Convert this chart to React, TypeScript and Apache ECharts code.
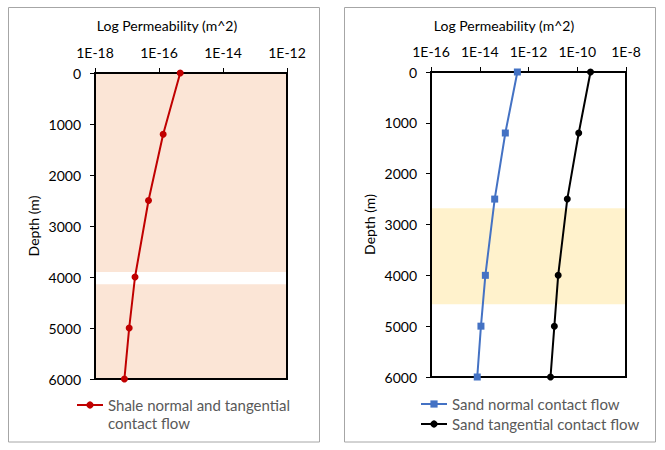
import React, { useEffect, useRef } from "react";
import * as echarts from "echarts";

// Depths (m)
const depths = [0, 1200, 2500, 4000, 5000, 6000];
// Permeability values (m^2)
const shalePerm = [4.6e-16, 1.35e-16, 4.7e-17, 1.78e-17, 1.17e-17, 8.3e-18];
const sandNormalPerm = [3.5e-13, 1.12e-13, 4.1e-14, 1.7e-14, 1.12e-14, 7.9e-15];
const sandTangentialPerm = [3.5e-10, 1.15e-10, 3.9e-11, 1.65e-11, 1.15e-11, 8e-12];
// Shaded depth bands
const shaleBands = [
  [0, 3900],
  [4140, 6000],
];
const sandBands = [[2680, 4570]];

const seriesNames = [
  "Shale normal and tangential contact flow",
  "Sand normal contact flow",
  "Sand tangential contact flow",
];
const axisTitle = "Log Permeability (m^2)";

const FONT = "Lato";

// layout
const GRIDS = [
  { left: 95, top: 73, width: 192, height: 306 },
  { left: 431, top: 72, width: 195, height: 305 },
];

export default function App() {
  const ref = useRef<HTMLDivElement>(null);
  useEffect(() => {
    document.body.style.margin = "0";
    const chart = echarts.init(ref.current!, undefined, { renderer: "svg" });
    const pair = (xs: number[]) => xs.map((x, i) => [x, depths[i]]);
    const expFmt = (v: number) => "1E" + Math.round(Math.log10(v));
    const topX = (min: number, max: number, grid: number) => ({
      type: "log",
      logBase: 10,
      gridIndex: grid,
      position: "top",
      min,
      max,
      interval: 2,
      axisLine: { show: true, onZero: false, lineStyle: { color: "#000", width: 2 } },
      axisTick: { show: true, inside: false, length: 5, lineStyle: { color: "#000" } },
      axisLabel: { formatter: expFmt, color: "#000", fontSize: 14, fontFamily: FONT, margin: 14 },
      splitLine: { show: false },
      minorTick: { show: false },
    });
    const leftY = (grid: number) => ({
      type: "value",
      gridIndex: grid,
      inverse: true,
      min: 0,
      max: 6000,
      interval: 1000,
      name: "Depth (m)",
      nameLocation: "middle",
      nameGap: 55,
      nameRotate: 90,
      nameTextStyle: { color: "#000", fontSize: 14, fontFamily: FONT },
      axisLine: { show: true, onZero: false, lineStyle: { color: "#000", width: 2 } },
      axisTick: { show: true, inside: false, length: 5, lineStyle: { color: "#000" } },
      axisLabel: {
        formatter: (v: number) => String(v),
        color: "#000",
        fontSize: 14,
        fontFamily: FONT,
        margin: 14,
      },
      splitLine: { show: false },
    });
    const bandData = (bands: number[][]) =>
      bands.map((b) => [{ yAxis: b[0] }, { yAxis: b[1] }]);
    const titleText = (x: number) => ({
      type: "text",
      x,
      y: 25,
      silent: true,
      style: {
        text: axisTitle,
        align: "center",
        verticalAlign: "middle",
        fill: "#000",
        fontSize: 14,
        fontFamily: FONT,
      },
    });
    const frame = (g: { left: number; top: number; width: number; height: number }) => ({
      type: "rect",
      z: 2,
      silent: true,
      shape: { x: g.left, y: g.top, width: g.width, height: g.height },
      style: { fill: "none", stroke: "#000", lineWidth: 2 },
    });

    chart.setOption({
      animation: false,
      backgroundColor: "#fff",
      textStyle: { fontFamily: FONT },
      graphic: [
        {
          type: "rect",
          shape: { x: 8.5, y: 7.5, width: 311, height: 434.5 },
          style: { fill: "none", stroke: "#A6A6A6", lineWidth: 1 },
          silent: true,
        },
        {
          type: "rect",
          shape: { x: 344.5, y: 7.5, width: 311, height: 434.5 },
          style: { fill: "none", stroke: "#A6A6A6", lineWidth: 1 },
          silent: true,
        },
        titleText(167),
        titleText(504),
        frame(GRIDS[0]),
        frame(GRIDS[1]),
      ],
      grid: GRIDS,
      xAxis: [topX(1e-18, 1e-12, 0), topX(1e-16, 1e-8, 1)],
      yAxis: [leftY(0), leftY(1)],
      legend: [
        {
          data: [seriesNames[0]],
          left: 76,
          top: 378,
          padding: 0,
          itemWidth: 26,
          itemHeight: 9,
          formatter: () => " \nShale normal and tangential\ncontact flow",
          textStyle: {
            color: "#595959",
            fontSize: 15,
            fontFamily: FONT,
            lineHeight: 18,
          },
        },
        {
          data: [seriesNames[1], seriesNames[2]],
          left: 420,
          top: 395,
          padding: 0,
          orient: "vertical",
          itemGap: 2,
          itemWidth: 26,
          itemHeight: 9,
          textStyle: { color: "#595959", fontSize: 15, fontFamily: FONT, lineHeight: 18 },
        },
      ],
      series: [
        {
          name: "shaleBand",
          type: "line",
          xAxisIndex: 0,
          yAxisIndex: 0,
          data: [],
          z: 1,
          markArea: {
            silent: true,
            itemStyle: { color: "#FBE5D6" },
            data: bandData(shaleBands),
          },
        },
        {
          name: seriesNames[0],
          type: "line",
          xAxisIndex: 0,
          yAxisIndex: 0,
          z: 3,
          data: pair(shalePerm),
          symbol: "circle",
          symbolSize: 7,
          lineStyle: { color: "#C00000", width: 2 },
          itemStyle: { color: "#C00000" },
        },
        {
          name: seriesNames[1],
          type: "line",
          xAxisIndex: 1,
          yAxisIndex: 1,
          z: 3,
          data: pair(sandNormalPerm),
          symbol: "rect",
          symbolSize: 7,
          lineStyle: { color: "#4472C4", width: 2 },
          itemStyle: { color: "#4472C4" },
        },
        {
          name: seriesNames[2],
          type: "line",
          xAxisIndex: 1,
          yAxisIndex: 1,
          z: 3,
          data: pair(sandTangentialPerm),
          symbol: "circle",
          symbolSize: 7,
          lineStyle: { color: "#000000", width: 2 },
          itemStyle: { color: "#000000" },
        },
        {
          name: "sandBand",
          type: "line",
          xAxisIndex: 1,
          yAxisIndex: 1,
          data: [],
          z: 4,
          markArea: {
            silent: true,
            itemStyle: { color: "rgba(255,212,85,0.3)" },
            data: bandData(sandBands),
          },
        },
      ],
    });
    return () => chart.dispose();
  }, []);
  return (
    <div
      ref={ref}
      style={{ position: "fixed", left: 0, top: 0, width: 665, height: 450 }}
    />
  );
}
